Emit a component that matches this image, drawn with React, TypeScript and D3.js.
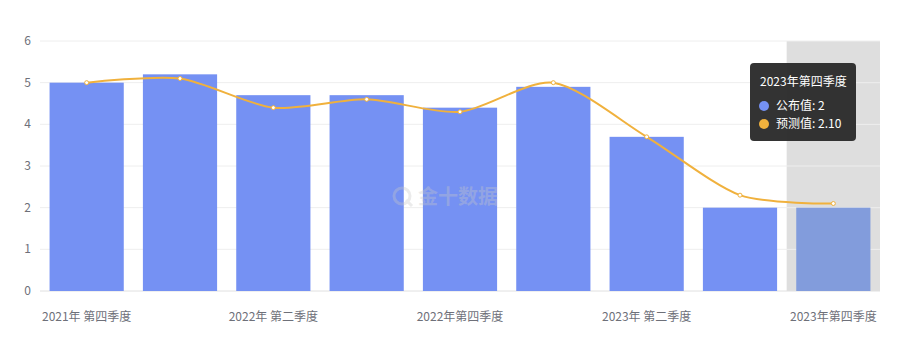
import React from "react";
import * as d3 from "d3";

const categories = [
  "2021年 第四季度",
  "2022年 第一季度",
  "2022年 第二季度",
  "2022年 第三季度",
  "2022年第四季度",
  "2023年 第一季度",
  "2023年 第二季度",
  "2023年 第三季度",
  "2023年第四季度",
];
const actualValues = [5.0, 5.2, 4.7, 4.7, 4.4, 4.9, 3.7, 2.0, 2.0];
const forecastValues = [5.0, 5.1, 4.4, 4.6, 4.3, 5.0, 3.7, 2.3, 2.1];
const yTicks = [0, 1, 2, 3, 4, 5, 6];
const shownLabelIndex = [0, 2, 4, 6, 8];
const highlightIndex = 8;

const W = 906;
const H = 356;
const margin = { left: 40, right: 26, top: 41, bottom: 65 };
const FONT = "'Noto Sans CJK SC', 'Noto Sans', sans-serif";

export default function App() {
  const band = d3.scaleBand<string>().domain(categories).range([margin.left, W - margin.right]);
  const y = d3.scaleLinear().domain([0, 6]).range([H - margin.bottom, margin.top]);
  const cx = (c: string) => (band(c) as number) + band.bandwidth() / 2;
  const barW = band.bandwidth() * 0.795;

  const line = d3
    .line<number>()
    .x((_, i) => cx(categories[i]))
    .y((d) => y(d))
    .curve(d3.curveCardinal.tension(0.2));

  const hc = categories[highlightIndex];
  const tipX = 750;
  const tipY = 63;

  return (
    <svg width={W} height={H} style={{ position: "absolute", left: 0, top: 0, fontFamily: FONT }}>
      <rect width={W} height={H} fill="#fff" />
      {/* highlight band */}
      <rect
        x={band(hc)}
        y={margin.top}
        width={band.bandwidth()}
        height={H - margin.bottom - margin.top}
        fill="#dedede"
      />
      {/* grid */}
      {yTicks.map((t) => (
        <g key={t}>
          <line
            x1={margin.left}
            x2={W - margin.right}
            y1={y(t)}
            y2={y(t)}
            stroke={t === 0 ? "#e0e0e0" : "#eeeeee"}
            strokeWidth={1}
          />
          <text x={31} y={y(t) + 4} textAnchor="end" fontSize={12} fill="#6e7079">
            {t}
          </text>
        </g>
      ))}
      {/* bars */}
      {categories.map((c, i) => (
        <rect
          key={c}
          x={cx(c) - barW / 2}
          y={y(actualValues[i])}
          width={barW}
          height={y(0) - y(actualValues[i])}
          fill={i === highlightIndex ? "#829cdc" : "#7591f3"}
        />
      ))}
      {/* watermark */}
      <g opacity={0.35} transform="translate(402,196)">
        <circle cx={0} cy={0} r={8} fill="none" stroke="#c8c8c8" strokeWidth={3} />
        <line x1={4} y1={4} x2={10} y2={10} stroke="#c8c8c8" strokeWidth={3} />
        <text x={16} y={8} fontSize={20} fontWeight="bold" fill="#c8c8c8">
          金十数据
        </text>
      </g>
      {/* line */}
      <path d={line(forecastValues) || ""} fill="none" stroke="#f0b13d" strokeWidth={2} />
      {forecastValues.map((v, i) => (
        <circle key={i} cx={cx(categories[i])} cy={y(v)} r={2} fill="#fff" stroke="#f0b13d" strokeWidth={1} />
      ))}
      {/* x labels */}
      {shownLabelIndex.map((i) => (
        <text key={i} x={cx(categories[i])} y={321} textAnchor="middle" fontSize={12} fill="#6e7079">
          {categories[i]}
        </text>
      ))}
      {/* tooltip */}
      <g>
        <rect x={tipX} y={tipY} width={106} height={78} rx={4} fill="rgba(40,40,40,0.95)" />
        <text x={tipX + 10} y={tipY + 23} fontSize={12} fill="#fff">
          {hc}
        </text>
        <circle cx={tipX + 14} cy={tipY + 43} r={5} fill="#7591f3" />
        <text x={tipX + 26} y={tipY + 47} fontSize={12} fill="#fff">
          公布值: {actualValues[highlightIndex]}
        </text>
        <circle cx={tipX + 14} cy={tipY + 61} r={5} fill="#f0b13d" />
        <text x={tipX + 26} y={tipY + 65} fontSize={12} fill="#fff">
          预测值: {forecastValues[highlightIndex].toFixed(2)}
        </text>
      </g>
    </svg>
  );
}
